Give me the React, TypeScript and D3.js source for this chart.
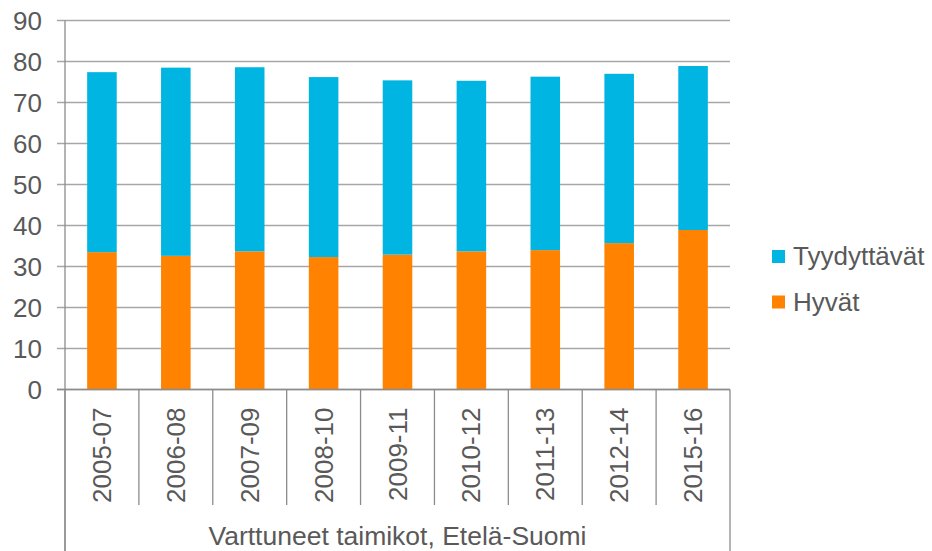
import React, { useEffect, useRef } from 'react';
import * as d3 from 'd3';

const periods = ['2005-07', '2006-08', '2007-09', '2008-10', '2009-11', '2010-12', '2011-13', '2012-14', '2015-16'];
const hyvat = [33.5, 32.6, 33.7, 32.3, 32.9, 33.7, 34.0, 35.7, 38.9];
const tyydyttavat = [43.9, 45.9, 44.9, 43.9, 42.5, 41.6, 42.3, 41.3, 40.0];
const yTicks = [0, 10, 20, 30, 40, 50, 60, 70, 80, 90];
const seriesNames = ['Tyydyttävät', 'Hyvät'];
const groupLabel = 'Varttuneet taimikot, Etelä-Suomi';

const BLUE = '#00b5e2';
const ORANGE = '#ff8200';
const TEXT = '#595959';
const FONT = '"Liberation Sans", Arial, sans-serif';

const App: React.FC = () => {
  const svgRef = useRef<SVGSVGElement>(null);

  useEffect(() => {
    if (!svgRef.current) return;
    const svg = d3.select(svgRef.current);
    svg.selectAll('*').remove();

    const left = 65;
    const right = 730;
    const top = 20.5;
    const bottom = 389.5;

    const x = d3.scaleBand<string>().domain(periods).range([left, right]);
    const y = d3.scaleLinear().domain([0, 90]).range([bottom, top]);
    const barW = x.bandwidth() * 0.4;

    // Gridlines + y ticks
    svg.append('g')
      .selectAll('line')
      .data(yTicks)
      .enter()
      .append('line')
      .attr('x1', left - 8)
      .attr('x2', right)
      .attr('y1', d => y(d))
      .attr('y2', d => y(d))
      .attr('stroke', '#a6a6a6')
      .attr('stroke-width', 1.3);

    svg.append('g')
      .selectAll('text')
      .data(yTicks)
      .enter()
      .append('text')
      .attr('x', 42)
      .attr('y', d => y(d))
      .attr('dy', '0.35em')
      .attr('text-anchor', 'end')
      .attr('font-family', FONT)
      .attr('font-size', 26)
      .attr('fill', TEXT)
      .text(d => d);

    // Stacked bars
    const rows = periods.map((p, i) => ({ p, h: hyvat[i], t: tyydyttavat[i] }));
    const bars = svg.append('g');
    bars.selectAll('.hyvat')
      .data(rows)
      .enter()
      .append('rect')
      .attr('x', d => (x(d.p) as number) + x.bandwidth() / 2 - barW / 2)
      .attr('y', d => y(d.h))
      .attr('width', barW)
      .attr('height', d => y(0) - y(d.h))
      .attr('fill', ORANGE);
    bars.selectAll('.tyyd')
      .data(rows)
      .enter()
      .append('rect')
      .attr('x', d => (x(d.p) as number) + x.bandwidth() / 2 - barW / 2)
      .attr('y', d => y(d.h + d.t))
      .attr('width', barW)
      .attr('height', d => y(d.h) - y(d.h + d.t))
      .attr('fill', BLUE);

    // Axes lines
    const axisColor = '#8c8c8c';
    svg.append('line')
      .attr('x1', left).attr('x2', left)
      .attr('y1', top).attr('y2', 551)
      .attr('stroke', axisColor).attr('stroke-width', 1.3);
    svg.append('line')
      .attr('x1', left - 8).attr('x2', right)
      .attr('y1', bottom).attr('y2', bottom)
      .attr('stroke', axisColor).attr('stroke-width', 1.3);

    const bounds = periods.map(p => x(p) as number).concat([right]);
    svg.append('g')
      .selectAll('line')
      .data(bounds)
      .enter()
      .append('line')
      .attr('x1', d => d)
      .attr('x2', d => d)
      .attr('y1', bottom)
      .attr('y2', (d, i) => (i === 0 || i === bounds.length - 1 ? 551 : 505))
      .attr('stroke', axisColor)
      .attr('stroke-width', 1.3);

    // Category labels, rotated
    svg.append('g')
      .selectAll('text')
      .data(periods)
      .enter()
      .append('text')
      .attr('transform', d => `translate(${(x(d) as number) + x.bandwidth() / 2},${bottom + 18}) rotate(-90)`)
      .attr('dy', '0.35em')
      .attr('text-anchor', 'end')
      .attr('font-family', FONT)
      .attr('font-size', 26)
      .attr('fill', TEXT)
      .text(d => d);

    svg.append('text')
      .attr('x', (left + right) / 2)
      .attr('y', 545)
      .attr('text-anchor', 'middle')
      .attr('font-family', FONT)
      .attr('font-size', 26.5)
      .attr('fill', TEXT)
      .text(groupLabel);

    // Legend
    const legendColors = [BLUE, ORANGE];
    const lg = svg.append('g');
    seriesNames.forEach((name, i) => {
      const ly = 250 + i * 45.5;
      lg.append('rect')
        .attr('x', 772).attr('y', ly)
        .attr('width', 13).attr('height', 13)
        .attr('fill', legendColors[i]);
      lg.append('text')
        .attr('x', 793).attr('y', ly + 15)
        .attr('font-family', FONT)
        .attr('font-size', 26)
        .attr('fill', TEXT)
        .text(name);
    });
  }, []);

  return (
    <svg
      ref={svgRef}
      width={932}
      height={551}
      style={{ position: 'absolute', left: 0, top: 0, background: '#fff' }}
    />
  );
};

export default App;
